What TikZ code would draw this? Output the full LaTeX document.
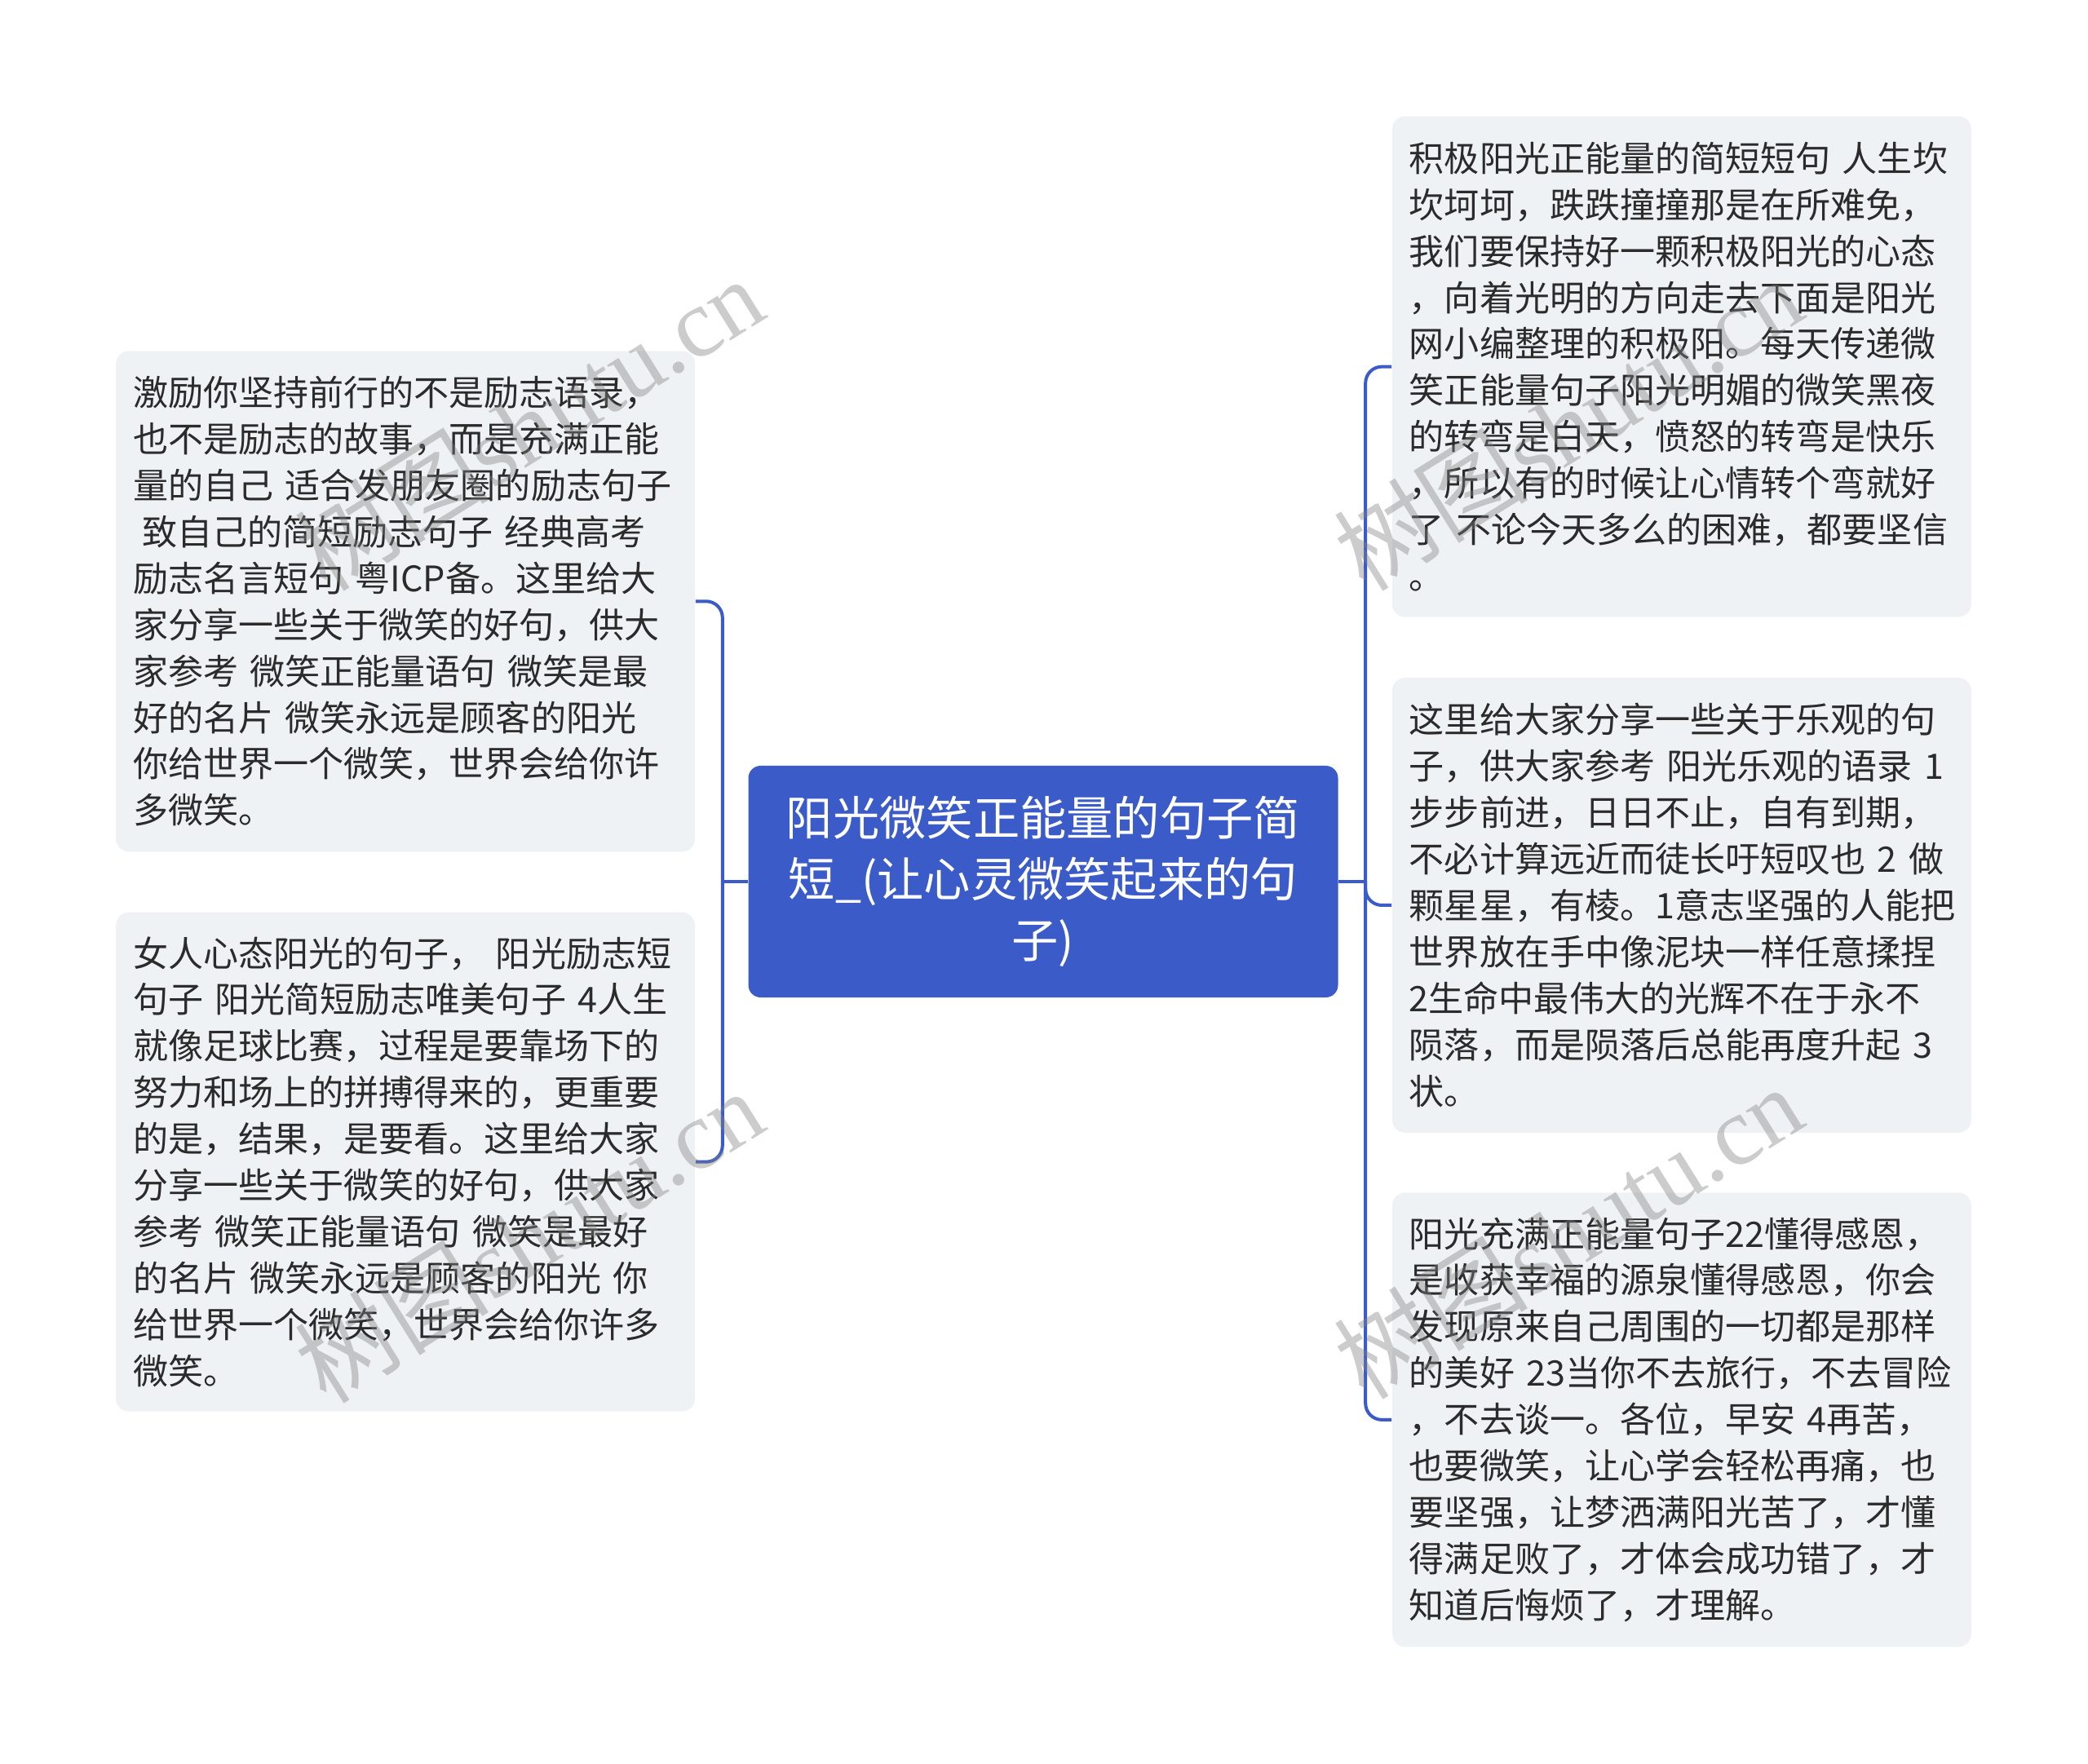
\documentclass[tikz,border=0pt]{standalone}
\usepackage{fontspec}
\setmainfont{Noto Sans CJK SC}
\newfontfamily\wmserif{Liberation Serif}
\usetikzlibrary{positioning}
\definecolor{rootblue}{HTML}{3B5BC9}
\definecolor{leafgray}{HTML}{EFF2F5}
\definecolor{inkgray}{HTML}{2B2B2B}

\begin{document}
\begin{tikzpicture}[
      node distance=7.3mm and 6.5mm,
      root/.style={fill=rootblue,rounded corners=1.5mm,align=center,
                   text=white,text width=68mm,minimum width=72.3mm,
                   minimum height=28.4mm,inner sep=0pt,
                   font=\fontsize{16.3}{21.3}\selectfont},
      leaf/.style={fill=leafgray,rounded corners=1.6mm,align=left,
                   text=inkgray,text width=66.8mm,inner xsep=2.1mm,
                   inner ysep=0pt,font=\fontsize{12.25}{16.2}\selectfont},
      link/.style={draw=rootblue,line width=0.4mm,rounded corners=2mm},
      wmark/.style={text=gray,opacity=0.4,rotate=32,
                    font=\fontsize{34}{34}\selectfont}]
    \useasboundingbox (0,0) rectangle (256mm,-216.3mm);

    \node[root] (root) at (127.9mm,-108.1mm)
      {阳光微笑正能量的句子简\\短\_(让心灵微笑起来的句\\子)};

    % left branch
    \node[leaf,minimum height=61.4mm,above left=3.6mm and 6.4mm of root.west] (l1)
      {激励你坚持前行的不是励志语录，\\
       也不是励志的故事，而是充满正能\\
       量的自己 适合发朋友圈的励志句子\\
       \hspace*{1.1mm}致自己的简短励志句子 经典高考\\
       励志名言短句 粤ICP备。这里给大\\
       家分享一些关于微笑的好句，供大\\
       家参考 微笑正能量语句 微笑是最\\
       好的名片 微笑永远是顾客的阳光\\
       你给世界一个微笑，世界会给你许\\
       多微笑。};
    \node[leaf,minimum height=61.2mm,below left=3.7mm and 6.4mm of root.west] (l2)
      {女人心态阳光的句子， 阳光励志短\\
       句子 阳光简短励志唯美句子 4人生\\
       就像足球比赛，过程是要靠场下的\\
       努力和场上的拼搏得来的，更重要\\
       的是，结果，是要看。这里给大家\\
       分享一些关于微笑的好句，供大家\\
       参考 微笑正能量语句 微笑是最好\\
       的名片 微笑永远是顾客的阳光 你\\
       给世界一个微笑，世界会给你许多\\
       微笑。};

    % right branch
    \node[leaf,minimum height=55.8mm,right=6.5mm of root,yshift=-2.9mm] (r2)
      {这里给大家分享一些关于乐观的句\\
       子，供大家参考 阳光乐观的语录 1\\
       步步前进，日日不止，自有到期，\\
       不必计算远近而徒长吁短叹也 2 做\\
       颗星星，有棱。1意志坚强的人能把\\
       世界放在手中像泥块一样任意揉捏\\
       2生命中最伟大的光辉不在于永不\\
       陨落，而是陨落后总能再度升起 3\\
       状。};
    \node[leaf,minimum height=61.4mm,above=of r2] (r1)
      {积极阳光正能量的简短短句 人生坎\\
       坎坷坷，跌跌撞撞那是在所难免，\\
       我们要保持好一颗积极阳光的心态\\
       ，向着光明的方向走去下面是阳光\\
       网小编整理的积极阳。每天传递微\\
       笑正能量句子阳光明媚的微笑黑夜\\
       的转弯是白天，愤怒的转弯是快乐\\
       ，所以有的时候让心情转个弯就好\\
       了 不论今天多么的困难，都要坚信\\
       。};
    \node[leaf,minimum height=55.7mm,below=7.2mm of r2] (r3)
      {阳光充满正能量句子22懂得感恩，\\
       是收获幸福的源泉懂得感恩，你会\\
       发现原来自己周围的一切都是那样\\
       的美好 23当你不去旅行，不去冒险\\
       ，不去谈一。各位，早安 4再苦，\\
       也要微笑，让心学会轻松再痛，也\\
       要坚强，让梦洒满阳光苦了，才懂\\
       得满足败了，才体会成功错了，才\\
       知道后悔烦了，才理解。};

    % connectors
    \coordinate (lhub) at ([xshift=-3.1mm]root.west);
    \coordinate (rhub) at ([xshift=3.3mm]root.east);
    \draw[link] (root.west) -- (lhub);
    \draw[link] (lhub) |- (l1.east);
    \draw[link] (lhub) |- (l2.east);
    \draw[link] (root.east) -- (rhub);
    \draw[link] (rhub) |- (r1.west);
    \draw[link] (rhub) |- (r2.west);
    \draw[link] (rhub) |- (r3.west);

    % watermarks
    \node[wmark] (wm1) at (64.8mm,-51.9mm) {树图{\wmserif shutu.cn}};
    \node[wmark] (wm2) at (64.8mm,-151.5mm) {树图{\wmserif shutu.cn}};
    \node[wmark] (wm3) at (192.2mm,-51.9mm) {树图{\wmserif shutu.cn}};
    \node[wmark] (wm4) at (192.2mm,-151.0mm) {树图{\wmserif shutu.cn}};
  \end{tikzpicture}
\end{document}
